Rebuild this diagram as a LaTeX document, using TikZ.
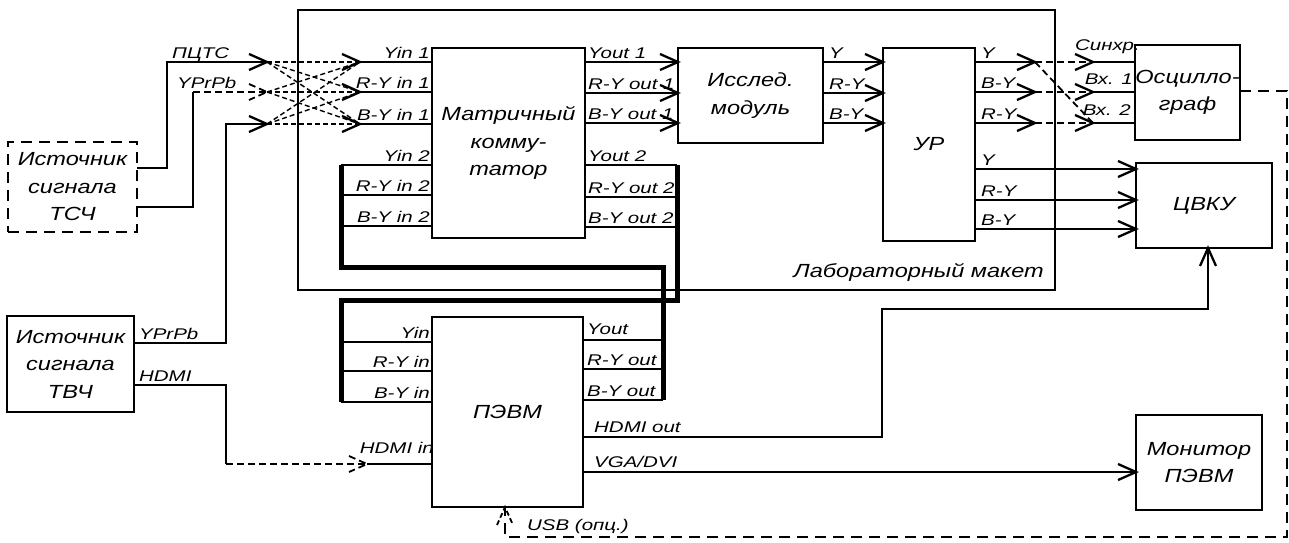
\documentclass[tikz,border=0pt]{standalone}
\usepackage{fontspec}
\setmainfont{Liberation Sans}[FakeStretch=1.32]
\newfontfamily\blkfont{Liberation Sans}[FakeStretch=1.24]
\usetikzlibrary{calc}
\newcommand\chevr[2][]{\draw[wire,#1,shift={(#2)}] (-18,-8) -- (0,0) -- (-18,8);}
\newcommand\chevu[2][]{\draw[wire,#1,shift={(#2)}] (-8,18) -- (0,0) -- (8,18);}
\begin{document}
\begin{tikzpicture}[x=1pt,y=-1pt,
  blk/.style={draw,line width=2.3pt,inner sep=0pt,outer sep=0pt,align=center,
     font=\blkfont\fontsize{19}{27.5}\selectfont\itshape},
  wire/.style={line width=2.3pt},
  bus/.style={line width=5pt},
  fine/.style={line width=1.4pt,dash pattern=on 5pt off 3pt},
  ldash/.style={line width=2.6pt,dash pattern=on 11pt off 7pt},
  mdash/.style={line width=1.8pt,dash pattern=on 7pt off 4pt},
  lbl/.style={font=\fontsize{15.5}{17}\selectfont\itshape,inner sep=0pt},
]
\useasboundingbox (0,0) rectangle (1289,542);
% --- boxes
\node[draw,line width=1.5pt,minimum width=757pt,minimum height=280pt,inner sep=0pt,outer sep=0pt] (lab) at (676.5,150) {};
\node[anchor=base east,inner sep=0pt,font=\blkfont\fontsize{19}{22}\selectfont\itshape] (labt) at (1044,277) {Лабораторный макет};
\node[blk,ldash,minimum width=129pt,minimum height=90pt] (tsch) at (72.5,187) {Источник\\сигнала\\ТСЧ};
\node[blk,minimum width=127pt,minimum height=96pt] (tvch) at (70.5,364) {Источник\\сигнала\\ТВЧ};
\node[blk,minimum width=153pt,minimum height=190pt] (mat) at (508.5,143) {Матричный\\комму-\\татор};
\node[blk,minimum width=145pt,minimum height=95pt] (mod) at (750.5,95.5) {Исслед.\\модуль};
\node[blk,minimum width=92pt,minimum height=193pt] (ur) at (929,144.5) {УР};
\node[blk,minimum width=105pt,minimum height=95pt] (osc) at (1187.5,92.5) {Осцилло-\\граф};
\node[blk,minimum width=136pt,minimum height=85pt] (cvku) at (1204,205.5) {ЦВКУ};
\node[blk,minimum width=151pt,minimum height=190pt] (pc) at (507.5,412) {ПЭВМ};
\node[blk,minimum width=126pt,minimum height=95pt] (mon) at (1199,462.5) {Монитор\\ПЭВМ};
% --- coordinates
\coordinate (t1) at (137,168); \coordinate (t2) at (137,207);
\coordinate (v1) at (134,343); \coordinate (v2) at (134,385);
\coordinate (a1) at (267,62); \coordinate (a2) at (267,92); \coordinate (a3) at (267,124);
\coordinate (b1) at (360,62); \coordinate (b2) at (360,92); \coordinate (b3) at (360,124);
\coordinate (mi1) at (432,62); \coordinate (mi2) at (432,92); \coordinate (mi3) at (432,124);
\coordinate (mj1) at (432,165); \coordinate (mj2) at (432,195); \coordinate (mj3) at (432,226);
\coordinate (bl1) at (341,165); \coordinate (bl2) at (341,195); \coordinate (bl3) at (341,226);
\coordinate (mo1) at (585,62); \coordinate (mo2) at (585,93); \coordinate (mo3) at (585,123);
\coordinate (md1) at (678,62); \coordinate (md2) at (678,93); \coordinate (md3) at (678,123);
\coordinate (mp1) at (585,165); \coordinate (mp2) at (585,197); \coordinate (mp3) at (585,227);
\coordinate (br1) at (677,165); \coordinate (br2) at (677,197); \coordinate (br3) at (677,227);
\coordinate (dm1) at (823,62); \coordinate (dm2) at (823,93); \coordinate (dm3) at (823,123);
\coordinate (ui1) at (883,62); \coordinate (ui2) at (883,93); \coordinate (ui3) at (883,123);
\coordinate (uo1) at (975,62); \coordinate (uo2) at (975,92); \coordinate (uo3) at (975,123);
\coordinate (c1) at (1035,62); \coordinate (c2) at (1035,92); \coordinate (c3) at (1035,123);
\coordinate (d1) at (1093,62); \coordinate (d2) at (1093,92); \coordinate (d3) at (1093,123);
\coordinate (oi1) at (1135,62); \coordinate (oi2) at (1135,92); \coordinate (oi3) at (1135,123);
\coordinate (uq1) at (975,169); \coordinate (uq2) at (975,200); \coordinate (uq3) at (975,229);
\coordinate (ci1) at (1136,169); \coordinate (ci2) at (1136,200); \coordinate (ci3) at (1136,229);
\coordinate (pi1) at (432,342); \coordinate (pi2) at (432,371); \coordinate (pi3) at (432,402);
\coordinate (pl1) at (341,342); \coordinate (pl2) at (341,371); \coordinate (pl3) at (341,402);
\coordinate (po1) at (583,340); \coordinate (po2) at (583,369); \coordinate (po3) at (583,400);
\coordinate (pr1) at (663,340); \coordinate (pr2) at (663,369); \coordinate (pr3) at (663,400);
\coordinate (ph) at (583,437); \coordinate (pv) at (583,472);
\coordinate (cb) at (1208,248); \coordinate (mw) at (1136,472);
\coordinate (hk) at (226,464); \coordinate (h2) at (367,464); \coordinate (hi) at (432,464);
\coordinate (f0) at (1240,91); \coordinate (f1) at (1287,91); \coordinate (f2) at (1287,537);
\coordinate (f3) at (505,537); \coordinate (u1) at (505,507);
% --- sources
\draw[wire] (t1) -| (167,62) -- (a1); \chevr{a1}
\draw[wire] (t2) -| (193,92);
\draw[mdash] (193,92) -- (a2);
\chevr[mdash]{a2}
\draw[wire] (v1) -| (226,124) -- (a3); \chevr{a3}
\foreach \i in {1,2,3}{\foreach \j in {1,2,3}{\draw[fine] (a\i) -- (b\j);}}
\foreach \j in {1,2,3}{\chevr{b\j} \draw[wire] (b\j) -- (mi\j);}
% matrix second inputs / outputs and buses
\foreach \j in {1,2,3}{\draw[wire] (bl\j) -- (mj\j); \draw[wire] (mp\j) -- (br\j);
  \draw[wire] (pl\j) -- (pi\j); \draw[wire] (po\j) -- (pr\j);}
\draw[bus] (bl1) -- (341,267) -- (663,267) -- (pr3);
\draw[bus] (br1) -- (677,300) -- (341,300) -- (pl3);
% matrix -> module -> UR -> oscilloscope / CVKU
\foreach \j in {1,2,3}{\draw[wire] (mo\j) -- (md\j); \chevr{md\j}
  \draw[wire] (dm\j) -- (ui\j); \chevr{ui\j}
  \draw[wire] (uo\j) -- (c\j); \chevr{c\j}
  \chevr{d\j} \draw[wire] (d\j) -- (oi\j);
  \draw[wire] (uq\j) -- (ci\j); \chevr{ci\j}}
\draw[mdash] (c1) -- (d1); \draw[mdash] (c1) -- (d3);
\draw[mdash] (c2) -- (d2); \draw[mdash] (c3) -- (d3);
% PC outputs
\draw[wire] (ph) -| (882,309) -| (cb); \chevu{cb}
\draw[wire] (pv) -- (mw); \chevr{mw}
% HDMI from TVCh
\draw[wire] (v2) -| (hk);
\draw[mdash] (hk) -- (h2);
\chevr[mdash]{h2}
\draw[wire] (h2) -- (hi);
% feedback
\draw[ldash] (f0) -- (f1) -- (f2) -- (f3) -- (u1);
\chevu[line width=1.8pt,dash pattern=on 5pt off 3pt]{u1}
% --- labels
\node[lbl,anchor=base west] (l1) at (172,58) {ПЦТС};
\node[lbl,anchor=base west] (l2) at (177,88) {YPrPb};
\node[lbl,anchor=base west] (l3) at (139,339) {YPrPb};
\node[lbl,anchor=base west] (l4) at (139,381) {HDMI};
\node[lbl,anchor=base east] (l5) at (430,58) {Yin 1};
\node[lbl,anchor=base east] (l6) at (430,88) {R-Y in 1};
\node[lbl,anchor=base east] (l7) at (430,120) {B-Y in 1};
\node[lbl,anchor=base east] (l8) at (430,161) {Yin 2};
\node[lbl,anchor=base east] (l9) at (430,191) {R-Y in 2};
\node[lbl,anchor=base east] (l10) at (430,222) {B-Y in 2};
\node[lbl,anchor=base west] (l11) at (588,58) {Yout 1};
\node[lbl,anchor=base west] (l12) at (588,89) {R-Y out 1};
\node[lbl,anchor=base west] (l13) at (588,119) {B-Y out 1};
\node[lbl,anchor=base west] (l14) at (588,161) {Yout 2};
\node[lbl,anchor=base west] (l15) at (588,193) {R-Y out 2};
\node[lbl,anchor=base west] (l16) at (588,223) {B-Y out 2};
\node[lbl,anchor=base west] (l17) at (829,58) {Y};
\node[lbl,anchor=base west] (l18) at (829,89) {R-Y};
\node[lbl,anchor=base west] (l19) at (829,119) {B-Y};
\node[lbl,anchor=base west] (l20) at (981,58) {Y};
\node[lbl,anchor=base west] (l21) at (981,88) {B-Y};
\node[lbl,anchor=base west] (l22) at (981,119) {R-Y};
\node[lbl,anchor=base west] (l23) at (981,165) {Y};
\node[lbl,anchor=base west] (l24) at (981,196) {R-Y};
\node[lbl,anchor=base west] (l25) at (981,225) {B-Y};
\node[lbl,anchor=base east] (l26) at (1140,50) {Синхр.};
\node[lbl,anchor=base east] (l27) at (1133,84) {Вх. 1};
\node[lbl,anchor=base east] (l28) at (1131,115) {Вх. 2};
\node[lbl,anchor=base east] (l29) at (430,338) {Yin};
\node[lbl,anchor=base east] (l30) at (430,367) {R-Y in};
\node[lbl,anchor=base east] (l31) at (430,398) {B-Y in};
\node[lbl,anchor=base west] (l32) at (587,334) {Yout};
\node[lbl,anchor=base west] (l33) at (587,365) {R-Y out};
\node[lbl,anchor=base west] (l34) at (587,396) {B-Y out};
\node[lbl,anchor=base west] (l35) at (594,432) {HDMI out};
\node[lbl,anchor=base west] (l36) at (594,467) {VGA/DVI};
\node[lbl,anchor=base east] (l37) at (434,453) {HDMI in};
\node[lbl,anchor=base west] (l38) at (527,530) {USB (опц.)};
\end{tikzpicture}
\end{document}
